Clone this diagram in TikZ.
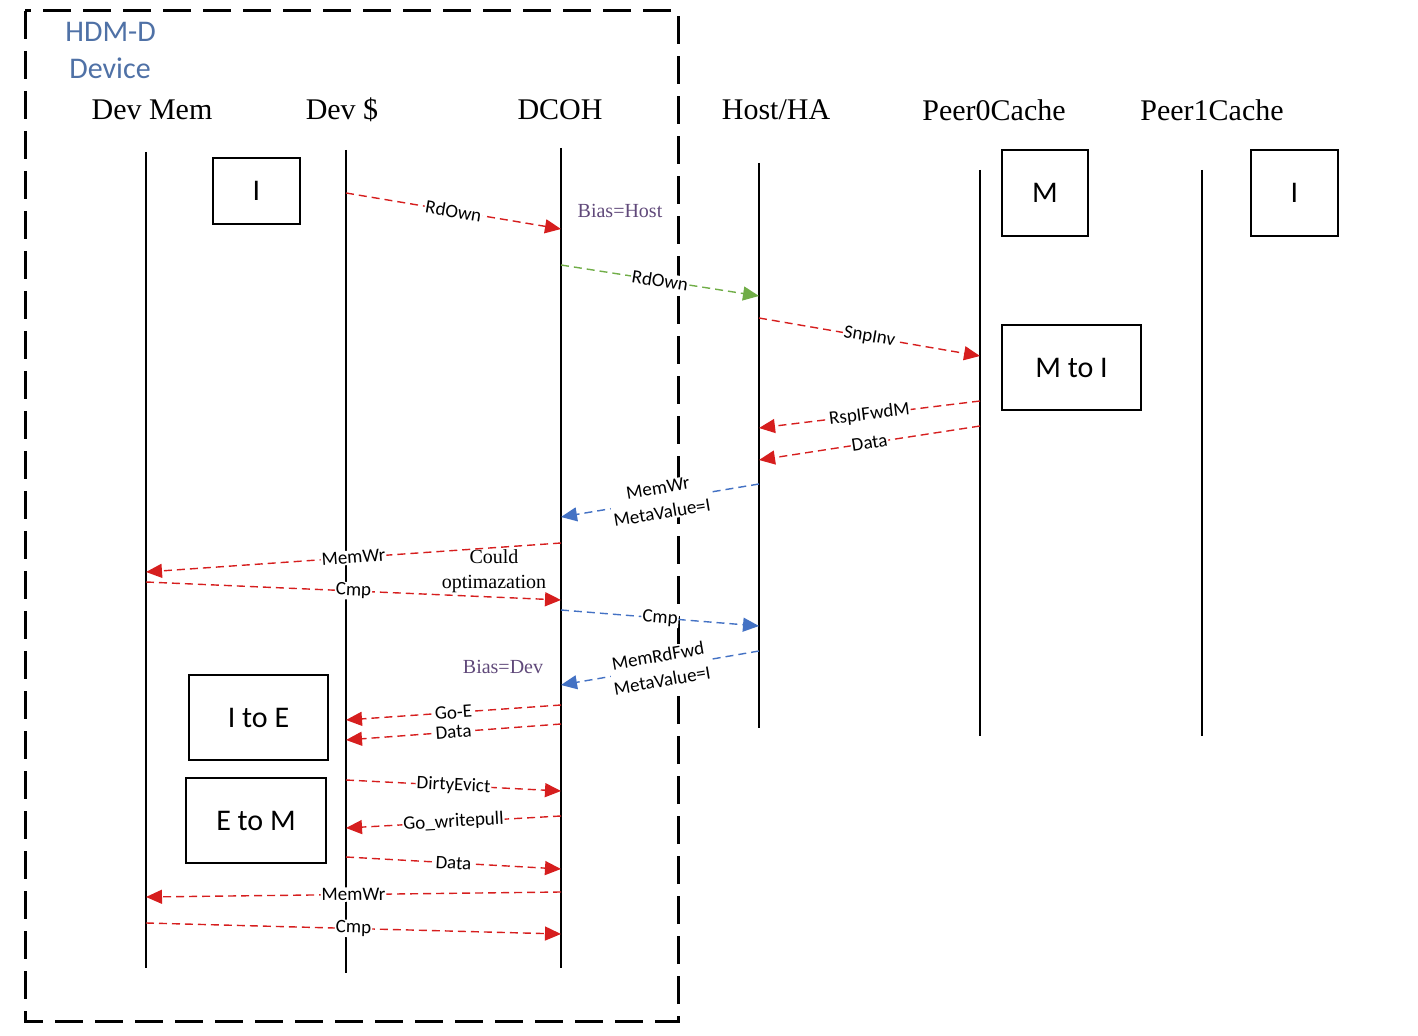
\documentclass[tikz,border=0pt]{standalone}
\usepackage{fontspec}
\setmainfont{Liberation Serif}
\newfontfamily\carlito{Carlito}
\usetikzlibrary{arrows.meta}

\definecolor{msgred}{RGB}{214,30,30}
\definecolor{msggreen}{RGB}{112,173,71}
\definecolor{msgblue}{RGB}{68,114,196}
\definecolor{hdmblue}{RGB}{79,113,166}
\definecolor{biaspurple}{RGB}{96,73,122}

\tikzset{
  seqlife/.style={line width=1pt},
  seqhead/.style={font=\fontsize{15}{18}\selectfont},
  statebox/.style={draw, line width=1.2pt, inner sep=0pt, font=\carlito\fontsize{15}{18}\selectfont},
  devbox/.style={line width=1.5pt, dash pattern=on 14pt off 6pt},
  msg/.style={line width=0.7pt, dash pattern=on 4pt off 2.5pt, -{Triangle[length=8pt,width=7pt]}},
  msglabel/.style={sloped, midway, fill=white, text=black, inner sep=0.5pt, align=center, font=\carlito\fontsize{9.5}{12.5}\selectfont},
  biasnote/.style={text=biaspurple, font=\fontsize{10}{12}\selectfont},
}

\newcommand{\seqline}[4]{%
  \coordinate (#1) at (#2,#3);
  \coordinate (#1-end) at (#2,#4);
  \draw[seqlife] (#1) -- (#1-end);}
\newcommand{\msgarrow}[6][msgred]{%
  \draw[msg, #1] (#2 |- 0,#3) -- node[msglabel] {#6} (#4 |- 0,#5);}

\begin{document}
\begin{tikzpicture}[x=0.5pt, y=-0.5pt]
\useasboundingbox (0,0) rectangle (1418,1036);
\begin{scope}
    \draw[devbox] (25,11) rectangle (678,1021);
    \node[anchor=west, inner sep=0pt, text=hdmblue, font=\carlito\fontsize{15}{18}\selectfont] (hdm) at (65,32) {HDM-D};
    \node[anchor=west, inner sep=0pt, text=hdmblue, font=\carlito\fontsize{15}{18}\selectfont] (device) at (69,68) {Device};

    \node[seqhead] (devmem-head) at (152,110) {Dev Mem};
    \node[seqhead] (devc-head) at (342,110) {Dev \$};
    \node[seqhead] (dcoh-head) at (560,110) {DCOH};
    \node[seqhead] (host-head) at (776,110) {Host/HA};
    \node[seqhead] (peer0-head) at (994,110) {Peer0Cache};
    \node[seqhead] (peer1-head) at (1212,110) {Peer1Cache};

    \seqline{devmem}{146}{152}{968}
    \seqline{devc}{346}{150}{973}
    \seqline{dcoh}{561}{148}{968}
    \seqline{host}{759}{163}{728}
    \seqline{peer0}{980}{170}{736}
    \seqline{peer1}{1202}{170}{736}

    \node[statebox, minimum width=43.5pt, minimum height=33pt] (devc-I) at (256.5,191) {I};
    \node[statebox, minimum width=43pt, minimum height=43pt] (peer0-M) at (1045,193) {M};
    \node[statebox, minimum width=43.5pt, minimum height=43pt] (peer1-I) at (1294.5,193) {I};
    \node[statebox, minimum width=69.5pt, minimum height=42.5pt] (peer0-MtoI) at (1071.5,367.5) {M to I};
    \node[statebox, minimum width=69.5pt, minimum height=42.5pt] (devc-ItoE) at (258.5,717.5) {I to E};
    \node[statebox, minimum width=70pt, minimum height=42.5pt] (devc-EtoM) at (256,820.5) {E to M};

    \node[biasnote] (bias-host) at (620,211) {Bias=Host};
    \node[biasnote] (bias-dev) at (503,667) {Bias=Dev};
    \node[font=\fontsize{10}{12.5}\selectfont, align=center] (could) at (494,571) {Could\\optimazation};

    \msgarrow{devc}{193}{dcoh}{229}{RdOwn}
    \msgarrow[msggreen]{dcoh}{265}{host}{296}{RdOwn}
    \msgarrow{host}{318}{peer0}{356}{SnpInv}
    \msgarrow{peer0}{401}{host}{428}{RspIFwdM}
    \msgarrow{peer0}{426}{host}{460}{Data}
    \msgarrow[msgblue]{host}{484}{dcoh}{517}{MemWr\\MetaValue=I}
    \msgarrow{dcoh}{543}{devmem}{572}{MemWr}
    \msgarrow{devmem}{582}{dcoh}{600}{Cmp}
    \msgarrow[msgblue]{dcoh}{610}{host}{626}{Cmp}
    \msgarrow[msgblue]{host}{651}{dcoh}{685}{MemRdFwd\\MetaValue=I}
    \msgarrow{dcoh}{705}{devc}{720}{Go-E}
    \msgarrow{dcoh}{724}{devc}{740}{Data}
    \msgarrow{devc}{780}{dcoh}{791}{DirtyEvict}
    \msgarrow{dcoh}{816}{devc}{828}{Go\_writepull}
    \msgarrow{devc}{857}{dcoh}{869}{Data}
    \msgarrow{dcoh}{892}{devmem}{897}{MemWr}
    \msgarrow{devmem}{923}{dcoh}{934}{Cmp}
\end{scope}
\end{tikzpicture}
\end{document}
